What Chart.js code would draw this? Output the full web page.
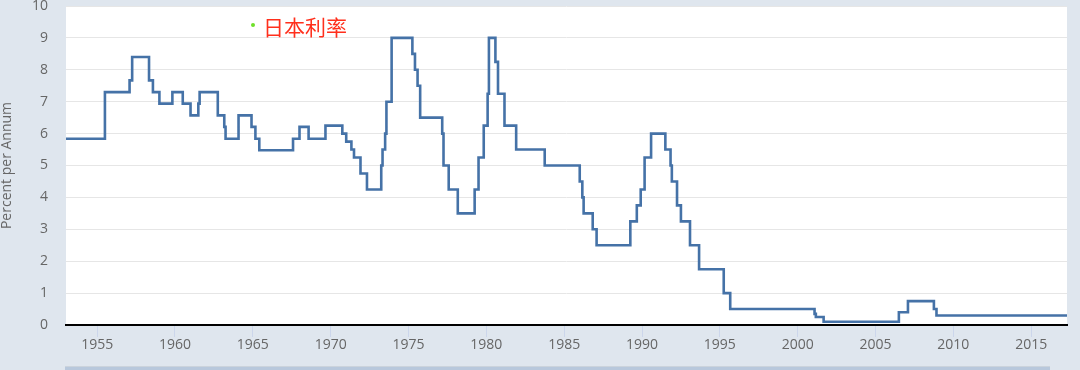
<!DOCTYPE html>
<html>
<head>
<meta charset="utf-8">
<script src="https://cdn.jsdelivr.net/npm/chart.js@4/dist/chart.umd.min.js"></script>
<style>
    html, body { margin: 0; padding: 0; background: #dfe6ee; }
    #wrap { position: relative; width: 1080px; height: 370px; overflow: hidden; }
    #legend { position: absolute; left: 250px; top: 14px; font: 21px "Noto Sans CJK SC", sans-serif; color: #ff2f1c; line-height: 24px; white-space: nowrap; }
    #legend .dot { display: inline-block; width: 4px; height: 4px; border-radius: 2px; background: #6fe02a; vertical-align: middle; margin: 0 8px 8px 1px; }
    #nav { position: absolute; left: 65px; top: 366px; width: 985px; height: 4px; background: #b8c8dc; border-top: 1px solid #cbd3dc; }
</style>
</head>
<body>
<div id="wrap">
    <canvas id="chart" width="1080" height="370"></canvas>
    <div id="legend"><span class="dot"></span>日本利率</div>
    <div id="nav"></div>
</div>
<script>
/* Japan discount rate, step changes (month the new rate took effect) */
const rateDates = [
    '1953-01', '1955-07', '1957-02', '1957-04', '1958-05', '1958-08', '1959-01', '1959-11',
    '1960-07', '1961-01', '1961-07', '1961-08', '1962-10', '1963-03', '1963-04', '1964-02',
    '1964-12', '1965-03', '1965-06', '1967-08', '1968-01', '1968-08', '1969-09', '1970-10',
    '1971-01', '1971-05', '1971-07', '1971-12', '1972-05', '1973-04', '1973-05', '1973-07',
    '1973-08', '1973-12', '1975-04', '1975-06', '1975-08', '1975-10', '1977-03', '1977-04',
    '1977-08', '1978-03', '1979-04', '1979-07', '1979-11', '1980-02', '1980-03', '1980-08',
    '1980-10', '1981-03', '1981-12', '1983-10', '1986-01', '1986-03', '1986-04', '1986-11',
    '1987-02', '1989-04', '1989-09', '1989-12', '1990-03', '1990-08', '1991-07', '1991-11',
    '1991-12', '1992-04', '1992-07', '1993-02', '1993-09', '1995-04', '1995-09', '2001-02',
    '2001-03', '2001-09', '2006-07', '2007-02', '2008-10', '2008-12', '2017-05'
];
const rates = [
    5.84, 7.30, 7.67, 8.40, 7.67, 7.30, 6.94, 7.30,
    6.94, 6.57, 6.94, 7.30, 6.57, 6.21, 5.84, 6.57,
    6.21, 5.84, 5.48, 5.84, 6.21, 5.84, 6.25, 6.00,
    5.75, 5.50, 5.25, 4.75, 4.25, 5.00, 5.50, 6.00,
    7.00, 9.00, 8.50, 8.00, 7.50, 6.50, 6.00, 5.00,
    4.25, 3.50, 4.25, 5.25, 6.25, 7.25, 9.00, 8.25,
    7.25, 6.25, 5.50, 5.00, 4.50, 4.00, 3.50, 3.00,
    2.50, 3.25, 3.75, 4.25, 5.25, 6.00, 5.50, 5.00,
    4.50, 3.75, 3.25, 2.50, 1.75, 1.00, 0.50, 0.35,
    0.25, 0.10, 0.40, 0.75, 0.50, 0.30, 0.30
];
const tickYears = [1955, 1960, 1965, 1970, 1975, 1980, 1985, 1990, 1995, 2000, 2005, 2010, 2015];
const yTicks = [0, 1, 2, 3, 4, 5, 6, 7, 8, 9, 10];
const seriesName = '日本利率';
const yTitle = 'Percent per Annum';

function toYear(s) {
    const parts = s.split('-');
    return Number(parts[0]) + (Number(parts[1]) - 1) / 12;
}

const points = rateDates.map(function (d, i) { return { x: toYear(d), y: rates[i] }; });

const plotBg = {
    id: 'plotBg',
    beforeDraw: function (chart) {
        const a = chart.chartArea;
        const ctx = chart.ctx;
        ctx.save();
        ctx.fillStyle = '#ffffff';
        ctx.fillRect(a.left, a.top, a.right - a.left, a.bottom - a.top);
        ctx.restore();
    }
};

const FONT = { family: '"Open Sans", sans-serif', size: 14 };

new Chart(document.getElementById('chart'), {
    type: 'line',
    data: {
        datasets: [{
            label: seriesName,
            data: points,
            borderColor: '#4572a7',
            borderWidth: 2.6,
            pointRadius: 0,
            stepped: true,
            fill: false
        }]
    },
    options: {
        responsive: false,
        animation: false,
        layout: { padding: { top: 6, right: 13, left: 0, bottom: 0 } },
        plugins: {
            legend: { display: false },
            tooltip: { enabled: false }
        },
        scales: {
            x: {
                type: 'linear',
                min: 1953.0,
                max: 2017.3,
                afterBuildTicks: function (scale) {
                    scale.ticks = tickYears.map(function (v) { return { value: v }; });
                },
                afterFit: function (scale) { scale.height = 45; },
                grid: { drawOnChartArea: false, drawTicks: true, tickLength: 12, color: '#ccd6eb' },
                border: { display: true, color: '#000000', width: 2 },
                ticks: {
                    color: '#666666',
                    font: FONT,
                    padding: 0,
                    maxRotation: 0,
                    callback: function (v) { return String(v); }
                }
            },
            y: {
                min: 0,
                max: 10,
                afterBuildTicks: function (scale) {
                    scale.ticks = yTicks.map(function (v) { return { value: v }; });
                },
                afterFit: function (scale) {
                    scale.width = 66;
                    scale.paddingTop = 0;
                    scale.paddingBottom = 0;
                },
                grid: { color: '#e6e6e6', lineWidth: 1, drawTicks: false },
                border: { display: false },
                ticks: { color: '#666666', font: FONT, padding: 18 },
                title: {
                    display: true,
                    text: yTitle,
                    color: '#666666',
                    font: { family: '"Open Sans", sans-serif', size: 14, lineHeight: 1.05 },
                    padding: { top: 0, bottom: 0 }
                }
            }
        }
    },
    plugins: [plotBg]
});
</script>
</body>
</html>
